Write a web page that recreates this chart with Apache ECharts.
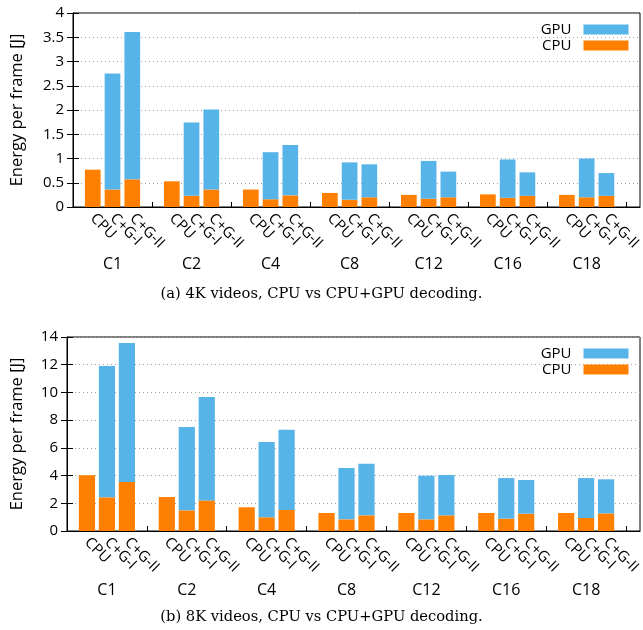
<!DOCTYPE html>
<html>
<head>
<meta charset="utf-8">
<script src="https://cdn.jsdelivr.net/npm/echarts@6/dist/echarts.min.js"></script>
<style>
html,body{margin:0;padding:0;background:#fff;}
#chart{width:643px;height:630px;}
</style>
</head>
<body>
<div id="chart"></div>
<script>
// ---- data ----
const groups = ['C1', 'C2', 'C4', 'C8', 'C12', 'C16', 'C18'];
const configs = ['CPU', 'C+G-I', 'C+G-II'];
const yTicks4k = { min: 0, max: 4, interval: 0.5 };
const yTicks8k = { min: 0, max: 14, interval: 2 };

// 4K: CPU energy part per bar [CPU, C+G-I, C+G-II]
const cpu4k = [
  [0.77, 0.36, 0.57],
  [0.53, 0.23, 0.36],
  [0.36, 0.16, 0.24],
  [0.29, 0.15, 0.20],
  [0.25, 0.17, 0.20],
  [0.26, 0.19, 0.23],
  [0.25, 0.20, 0.23]
];
// 4K: GPU energy part per bar
const gpu4k = [
  [0, 2.39, 3.04],
  [0, 1.51, 1.65],
  [0, 0.97, 1.04],
  [0, 0.77, 0.68],
  [0, 0.78, 0.53],
  [0, 0.79, 0.485],
  [0, 0.80, 0.47]
];
// 8K: CPU energy part
const cpu8k = [
  [4.02, 2.43, 3.54],
  [2.45, 1.49, 2.21],
  [1.71, 0.99, 1.52],
  [1.30, 0.84, 1.13],
  [1.30, 0.84, 1.13],
  [1.30, 0.89, 1.25],
  [1.30, 0.94, 1.27]
];
// 8K: GPU energy part
const gpu8k = [
  [0, 9.48, 10.03],
  [0, 6.01, 7.46],
  [0, 5.43, 5.79],
  [0, 3.71, 3.73],
  [0, 3.15, 2.91],
  [0, 2.93, 2.43],
  [0, 2.88, 2.46]
];
const captions = [
  '(a) 4K videos, CPU vs CPU+GPU decoding.',
  '(b) 8K videos, CPU vs CPU+GPU decoding.'
];

// ---- build ----
const FONT = '"Open Sans"';
const BLUE = '#56b4e9';
const ORANGE = '#ff8000';
const X_MAX = 28.7;
const slotsPerGroup = configs.length + 1;
const nSlots = groups.length * slotsPerGroup; // 28

const sepTicks = [], groupTicks = [], slotCats = [];
const barTicksByConfig = configs.map(() => []);
for (let g = 0; g < groups.length; g++) {
  sepTicks.push(g * slotsPerGroup);
  for (let b = 0; b < configs.length; b++) barTicksByConfig[b].push(g * slotsPerGroup + b + 1);
  groupTicks.push(g * slotsPerGroup + slotsPerGroup / 2);
}
sepTicks.push(nSlots);
for (let k = 0; k <= nSlots; k++) slotCats.push('s' + k);

function toSlots(arr) {
  const out = [];
  arr.forEach(row => { out.push('-'); row.forEach(v => out.push(v)); });
  out.push('-');
  return out;
}

const panels = [
  { left: 73, top: 13, right: 3, height: 194, y: yTicks4k, cpu: cpu4k, gpu: gpu4k, barW: 15.7, nameGap: 47, capTop: 282, groupMargin: 49 },
  { left: 67, top: 337, right: 3, height: 194, y: yTicks8k, cpu: cpu8k, gpu: gpu8k, barW: 16.2, nameGap: 41, capTop: 605, groupMargin: 51 }
];

function draw() {
  const option = {
    animation: false,
    backgroundColor: '#fff',
    textStyle: { fontFamily: FONT },
    grid: [], xAxis: [], yAxis: [], series: [], legend: [], title: []
  };

  panels.forEach((p, i) => {
    const W = 643 - p.left - p.right;
    const barsWidth = W * nSlots / X_MAX;
    option.grid.push({ show: true, borderColor: '#000', borderWidth: 1, backgroundColor: 'transparent', outerBoundsMode: 'none',
      left: p.left, top: p.top, right: p.right, height: p.height });
    option.grid.push({ show: false, outerBoundsMode: 'none',
      left: p.left, top: p.top, width: barsWidth, height: p.height });
    const fg = 2 * i, bg = 2 * i + 1;
    const xBase = option.xAxis.length;

    configs.forEach((name, b) => {
      option.xAxis.push({
        type: 'value', gridIndex: fg, min: 0, max: X_MAX, position: 'bottom',
        axisLine: { show: b === 0, lineStyle: { color: '#000', width: 1 } },
        axisTick: { show: b === 0, inside: true, length: 5, customValues: sepTicks, lineStyle: { color: '#000' } },
        splitLine: { show: false },
        axisLabel: {
          show: true, customValues: barTicksByConfig[b], rotate: -45, margin: 9,
          hideOverlap: false, showMinLabel: true, showMaxLabel: true,
          fontSize: 15, color: '#000', fontFamily: FONT,
          formatter: function () { return name; }
        }
      });
    });
    option.xAxis.push({
      type: 'value', gridIndex: fg, min: 0, max: X_MAX, position: 'bottom',
      axisLine: { show: false }, axisTick: { show: false }, splitLine: { show: false },
      axisLabel: {
        show: true, customValues: groupTicks, margin: p.groupMargin,
        hideOverlap: false, showMinLabel: true, showMaxLabel: true,
        fontSize: 16, color: '#000', fontFamily: FONT,
        formatter: function (v) { return groups[Math.round((v - slotsPerGroup / 2) / slotsPerGroup)] || ''; }
      }
    });
    option.xAxis.push({
      type: 'category', gridIndex: bg, data: slotCats, boundaryGap: false, show: false
    });
    const barX = option.xAxis.length - 1;

    option.yAxis.push({
      type: 'value', gridIndex: fg, position: 'left', min: p.y.min, max: p.y.max, interval: p.y.interval,
      name: 'Energy per frame [J]', nameLocation: 'middle', nameGap: p.nameGap,
      nameTextStyle: { fontSize: 16.5, color: '#000', fontFamily: FONT },
      axisLine: { show: true, lineStyle: { color: '#000' } },
      axisTick: { show: true, inside: true, length: 6, lineStyle: { color: '#000' } },
      axisLabel: { fontSize: 15, color: '#000', margin: 9, fontFamily: FONT },
      splitLine: { show: true, lineStyle: { color: '#a0a0a0', type: [1, 3], width: 1 } }
    });
    option.yAxis.push({
      type: 'value', gridIndex: fg, position: 'right', min: p.y.min, max: p.y.max, interval: p.y.interval,
      axisLine: { show: true, lineStyle: { color: '#000' } },
      axisTick: { show: true, inside: true, length: 6, lineStyle: { color: '#000' } },
      axisLabel: { show: false }, splitLine: { show: false }
    });
    option.yAxis.push({
      type: 'value', gridIndex: bg, min: p.y.min, max: p.y.max, interval: p.y.interval, show: false,
      splitLine: { show: false }
    });
    const barY = option.yAxis.length - 1;

    option.series.push({
      name: 'CPU', type: 'bar', stack: 'e' + i, xAxisIndex: barX, yAxisIndex: barY,
      barWidth: p.barW, data: toSlots(p.cpu),
      itemStyle: { color: ORANGE }
    });
    option.series.push({
      name: 'GPU', type: 'bar', stack: 'e' + i, xAxisIndex: barX, yAxisIndex: barY,
      barWidth: p.barW, data: toSlots(p.gpu),
      itemStyle: { color: BLUE }
    });
    option.legend.push({
      data: ['GPU', 'CPU'], orient: 'vertical', align: 'right', right: 9.5, top: p.top + 4,
      icon: 'rect', itemWidth: 45, itemHeight: 10, itemGap: 1,
      textStyle: { fontSize: 15, color: '#000', fontFamily: FONT, padding: [0, 7, 0, 0] },
      selectedMode: false
    });
    option.title.push({
      text: captions[i], left: 'center', top: p.capTop,
      textStyle: { fontSize: 14.7, fontWeight: 'normal', color: '#000', fontFamily: '"DejaVu Serif"' }
    });
  });

  const chart = echarts.init(document.getElementById('chart'), null, { renderer: 'canvas' });
  chart.setOption(option);
}

if (document.fonts && document.fonts.load) {
  Promise.all([
    document.fonts.load('15px "Open Sans"'),
    document.fonts.load('15px "DejaVu Serif"')
  ]).then(draw, draw);
} else {
  draw();
}
</script>
</body>
</html>
